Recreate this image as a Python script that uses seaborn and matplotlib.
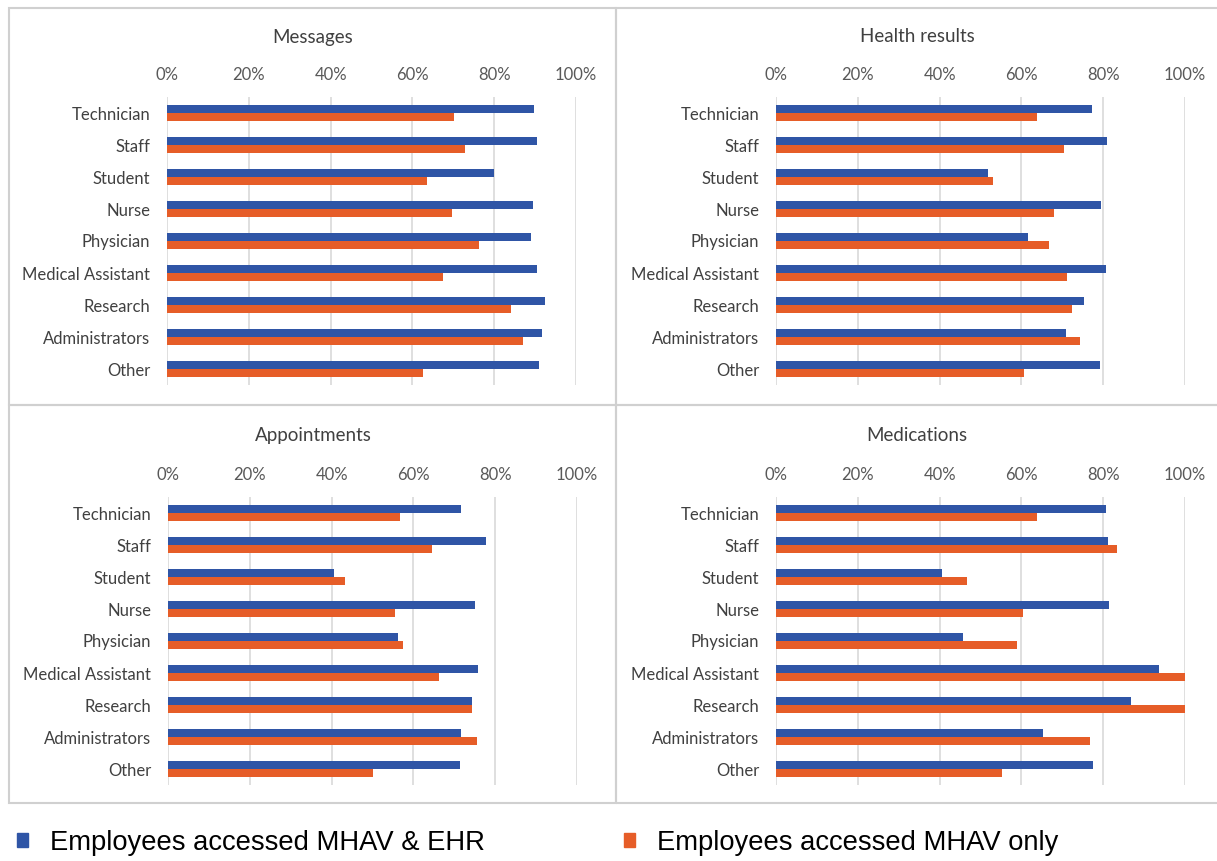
import pandas as pd
import seaborn as sns
import matplotlib.pyplot as plt
from matplotlib.patches import Rectangle

# --- data ---
roles = ["Technician", "Staff", "Student", "Nurse", "Physician",
         "Medical Assistant", "Research", "Administrators", "Other"]
series_names = ["Employees accessed MHAV & EHR", "Employees accessed MHAV only"]

messages_ehr = [89.7, 90.5, 80.0, 89.4, 89.0, 90.5, 92.4, 91.6, 90.9]
messages_only = [70.1, 72.8, 63.5, 69.8, 76.2, 67.5, 84.1, 87.1, 62.7]

health_ehr = [77.3, 81.0, 51.8, 79.5, 61.5, 80.7, 75.4, 70.9, 79.1]
health_only = [63.8, 70.5, 53.0, 67.9, 66.8, 71.2, 72.4, 74.3, 60.7]

appts_ehr = [71.7, 77.8, 40.6, 75.1, 56.3, 75.9, 74.3, 71.7, 71.4]
appts_only = [56.7, 64.6, 43.3, 55.6, 57.5, 66.2, 74.3, 75.5, 50.0]

meds_ehr = [80.7, 81.1, 40.6, 81.5, 45.8, 93.6, 86.8, 65.4, 77.4]
meds_only = [63.8, 83.4, 46.6, 60.4, 58.9, 100.0, 100.0, 76.7, 55.2]

panels = [
    ("Messages", messages_ehr, messages_only),
    ("Health results", health_ehr, health_only),
    ("Appointments", appts_ehr, appts_only),
    ("Medications", meds_ehr, meds_only),
]

ticks = [0, 20, 40, 60, 80, 100]
tick_labels = ["0%", "20%", "40%", "60%", "80%", "100%"]

BLUE = "#2F55A6"
ORANGE = "#E65D28"

sns.set_style("white")
plt.rcParams["font.family"] = ["Lato", "DejaVu Sans"]

W, H = 1217, 861
fig = plt.figure(figsize=(W / 100, H / 100), dpi=100)

# axes rectangles in pixels: left, top, right, bottom
boxes = [(167, 97, 576, 385), (776, 97, 1185, 385),
         (168, 497, 577, 785), (776, 497, 1185, 785)]
title_pos = [(313, 37), (917, 37), (313, 436), (917, 436)]

for (title, ehr, only), (l, t, r, b), (tx, ty) in zip(panels, boxes, title_pos):
    ax = fig.add_axes([l / W, 1 - b / H, (r - l) / W, (b - t) / H])
    df = pd.DataFrame({
        "role": roles * 2,
        "value": ehr + only,
        "series": [series_names[0]] * len(roles) + [series_names[1]] * len(roles),
    })
    sns.barplot(data=df, y="role", x="value", hue="series", orient="h",
                palette=[BLUE, ORANGE], saturation=1, width=0.52, gap=0,
                linewidth=0, ax=ax, legend=False,
                order=roles, hue_order=series_names)
    ax.set_xlim(0, 100)
    ax.set_ylim(8.5, -0.5)
    ax.set_xticks(ticks)
    ax.set_xticklabels(tick_labels)
    ax.xaxis.tick_top()
    ax.tick_params(axis="x", length=0, pad=10, labelsize=12, labelcolor="#595959")
    ax.tick_params(axis="y", length=0, pad=12, labelsize=12, labelcolor="#404040")
    ax.grid(axis="x", color="#D9D9D9", linewidth=1.2)
    ax.set_axisbelow(True)
    for s in ax.spines.values():
        s.set_visible(False)
    ax.set_xlabel("")
    ax.set_ylabel("")
    fig.text(tx / W, 1 - ty / H, title, ha="center", va="center",
             fontsize=13.5, color="#404040")

# panel frames
frame = dict(fill=False, edgecolor="#D0D0D0", linewidth=1.5,
             transform=fig.transFigure)
for (x0, y0, x1, y1) in [(9, 8, 616, 405), (616, 8, 1220, 405),
                         (9, 405, 616, 803), (616, 405, 1220, 803)]:
    fig.patches.append(Rectangle((x0 / W, 1 - y1 / H), (x1 - x0) / W,
                                 (y1 - y0) / H, **frame))

# legend
handles = [Rectangle((0, 0), 1, 1, color=BLUE), Rectangle((0, 0), 1, 1, color=ORANGE)]
leg = fig.legend(handles, series_names, loc="center left",
                 bbox_to_anchor=(17 / W, 1 - 843 / H), ncol=2, frameon=False,
                 borderpad=0, borderaxespad=0,
                 handlelength=0.4, handleheight=0.4, handletextpad=0.8,
                 columnspacing=5.1,
                 prop={"family": ["Liberation Sans", "DejaVu Sans"], "size": 19.7})
for txt in leg.get_texts():
    txt.set_color("black")

fig.savefig("out.png", dpi=100)
